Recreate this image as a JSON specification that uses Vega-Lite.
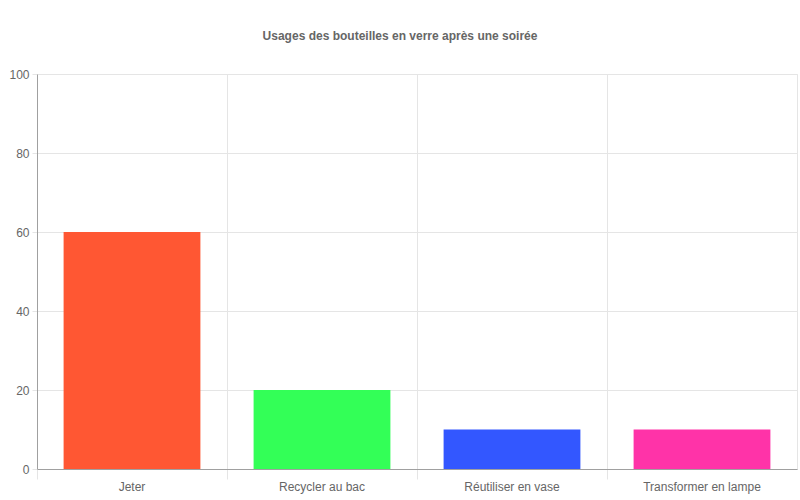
{
  "$schema": "https://vega.github.io/schema/vega-lite/v6.json",
  "width": 760,
  "height": 395,
  "autosize": {"type": "none"},
  "padding": {"left": 37, "top": 74, "right": 3, "bottom": 31},
  "background": "white",
  "title": {
    "text": "Usages des bouteilles en verre après une soirée",
    "font": "Liberation Sans",
    "fontSize": 12,
    "fontWeight": "bold",
    "color": "#666666",
    "offset": 25,
    "dx": -17,
    "anchor": "middle"
  },
  "data": {
    "values": [
      {"usage": "Jeter", "pct": 60},
      {"usage": "Recycler au bac", "pct": 20},
      {"usage": "Réutiliser en vase", "pct": 10},
      {"usage": "Transformer en lampe", "pct": 10}
    ]
  },
  "config": {
    "view": {"stroke": "#e5e5e5"},
    "axis": {
      "labelFont": "Liberation Sans",
      "labelFontSize": 12,
      "labelColor": "#666666",
      "gridColor": "#e5e5e5",
      "tickColor": "#e5e5e5",
      "domainColor": "#a0a0a0"
    }
  },
  "mark": {"type": "bar"},
  "encoding": {
    "x": {
      "field": "usage",
      "type": "nominal",
      "sort": null,
      "title": null,
      "scale": {"paddingInner": 0.28, "paddingOuter": 0.14},
      "axis": {
        "labelAngle": 0,
        "bandPosition": -0.1934,
        "labelBound": false,
        "grid": true,
        "tickSize": 10,
        "labelPadding": 2
      }
    },
    "y": {
      "field": "pct",
      "type": "quantitative",
      "title": null,
      "scale": {"domain": [0, 100]},
      "axis": {"values": [0, 20, 40, 60, 80, 100], "tickSize": 5, "labelPadding": 3, "grid": true}
    },
    "color": {
      "field": "usage",
      "type": "nominal",
      "sort": null,
      "legend": null,
      "scale": {"range": ["#FF5733", "#33FF57", "#3357FF", "#FF33A8"]}
    }
  }
}
